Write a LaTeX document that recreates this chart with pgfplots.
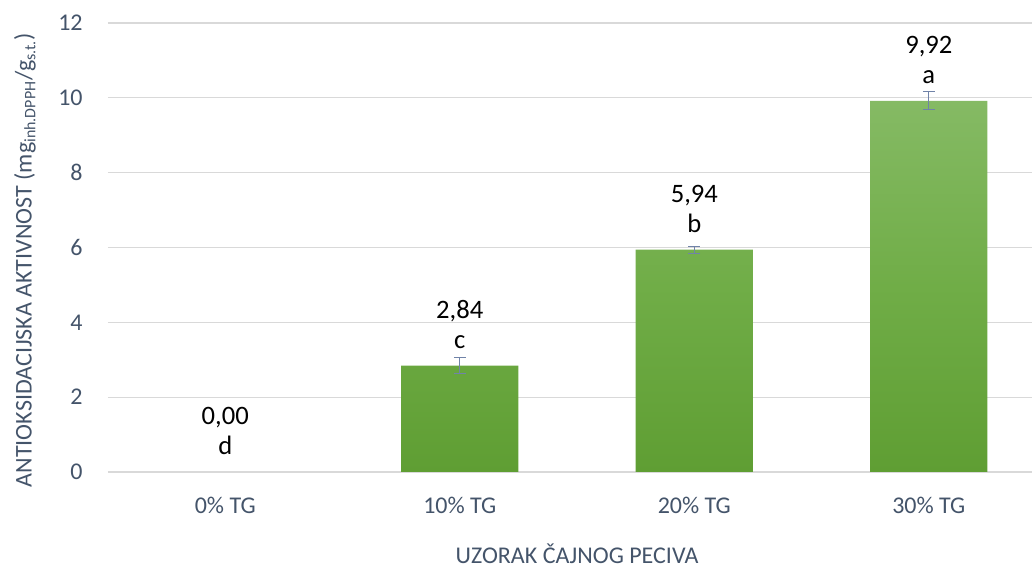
\documentclass[border=0pt]{standalone}
\usepackage{pgfplots}
\pgfplotsset{compat=1.18}
\usepackage{pgfplotstable}
\usepackage{fontspec}
\setmainfont{Carlito}
\definecolor{gtop}{HTML}{85BA64}
\definecolor{gmid}{HTML}{70AD47}
\definecolor{gbot}{HTML}{5F9E33}
\definecolor{txt}{HTML}{44546A}
\definecolor{gridc}{HTML}{D9D9D9}
\definecolor{errc}{HTML}{7083A8}
\pgfplotstableread{
x y e lab
1 2.84 0.21 {2,84\\c}
2 5.94 0.09 {5,94\\b}
3 9.92 0.24 {9,92\\a}
}\datatab
\pgfplotstableread{
x y lab
0 0.00 {0,00\\d}
}\zerotab
\begin{document}
\begin{tikzpicture}
\path[use as bounding box] (-54pt,-47.5pt) rectangle (462pt,236pt);
\begin{axis}[
  at={(0,0)}, anchor=south west,
  scale only axis,
  width=462pt, height=224.5pt,
  xmin=-0.5, xmax=3.44,
  ymin=0, ymax=12,
  ytick={0,2,...,12},
  xtick={0,1,2,3},
  xticklabels={0\% TG,10\% TG,20\% TG,30\% TG},
  axis line style={draw=none},
  major tick length=0pt,
  ymajorgrids,
  grid style={draw=gridc, line width=0.6pt},
  /pgf/number format/assume math mode=true,
  tick label style={font=\fontsize{12}{14}\selectfont, text=txt},
  yticklabel style={anchor=east, inner sep=0pt, xshift=-12.5pt},
  xticklabel style={anchor=base, inner sep=0pt, yshift=-20.5pt},
  xlabel={UZORAK ČAJNOG PECIVA},
  xlabel style={at={(axis description cs:0.5076,-0.2027)}, anchor=base, inner sep=0pt, font=\fontsize{12}{14}\selectfont, text=txt},
  ylabel={ANTIOKSIDACIJSKA AKTIVNOST (mg\textsubscript{inh.DPPH}/g\textsubscript{s.t.})},
  ylabel style={at={(axis description cs:-0.0898,0.472)}, anchor=center, inner sep=0pt, font=\fontsize{12}{14}\selectfont, text=txt},
  clip=false,
  every node near coord/.style={anchor=south, inner sep=0pt, yshift=8.5pt, align=center, text=black, fill=none, draw=none, font=\fontsize{13.3}{15}\selectfont},
]
\addplot[ybar, bar shift=0pt, bar width=0.5, draw=none, fill=none,
  point meta=explicit symbolic,
  nodes near coords={\pgfplotspointmeta},
] table[x=x, y=y, meta=lab] {\zerotab};
\addplot[ybar, bar shift=0pt, bar width=0.5, draw=none, top color=gtop, bottom color=gbot, middle color=gmid,
  point meta=explicit symbolic,
  nodes near coords={\pgfplotspointmeta},
  error bars/.cd, y dir=both, y explicit,
  error bar style={draw=errc, line width=0.6pt},
  error mark options={rotate=90, mark size=3pt, draw=errc, line width=0.6pt},
] table[x=x, y=y, y error=e, meta=lab] {\datatab};
\end{axis}
\end{tikzpicture}
\end{document}
